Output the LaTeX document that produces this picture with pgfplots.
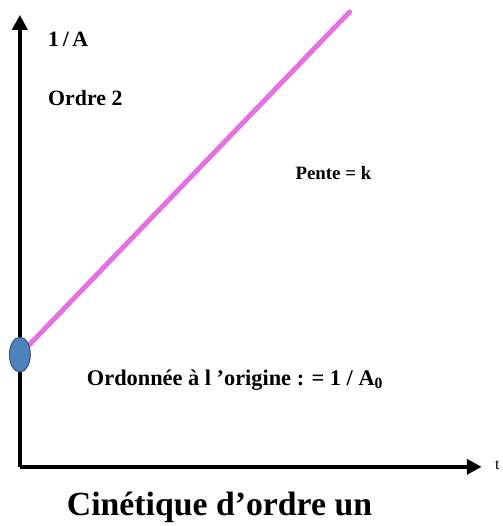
\documentclass[border=0pt]{standalone}
\usepackage{fontspec}
\setmainfont{Liberation Serif}
\usepackage{pgfplots}
\pgfplotsset{compat=1.18}
\usetikzlibrary{arrows.meta}

\definecolor{lineviolet}{RGB}{228,112,228}
\definecolor{dotblue}{RGB}{79,129,189}
\definecolor{dotedge}{RGB}{52,84,128}

\begin{document}
\begin{tikzpicture}
\begin{axis}[
  scale only axis,
  width=465pt, height=455pt,
  xmin=0, xmax=465, ymin=0, ymax=455,
  axis lines=left,
  axis line style={line width=4pt, -{Triangle[length=15pt,width=15pt]}},
  xtick=\empty, ytick=\empty,
  clip=false,
]
  % fixed page frame
  \path (axis cs:-20,-56) rectangle (axis cs:486,470);

  % 1/A against t: straight line
  \addplot[lineviolet, line width=5pt, line cap=round] coordinates {(0,113) (332,458)};
  % intercept 1/A0
  \addplot[only marks, mark=*, mark size=17.5pt,
    mark options={xscale=0.6, fill=dotblue, draw=dotedge, line width=1pt}]
    coordinates {(0,113)};

  \node[anchor=base west, font=\bfseries\fontsize{22}{26}\selectfont] at (axis cs:25,423) {1\,/\,A};
  \node[anchor=base west, font=\bfseries\fontsize{22}{26}\selectfont] at (axis cs:25,364) {Ordre 2};
  \node[anchor=base west, font=\bfseries\fontsize{19}{23}\selectfont] at (axis cs:274,289) {Pente = k};
  \node[anchor=base west, font=\bfseries\fontsize{22.5}{26}\selectfont] at (axis cs:64,82)
    {Ordonnée à l 'origine : = 1 / A$_{\mathbf 0}$};
  \node[anchor=base west, font=\fontsize{16}{19}\selectfont] at (axis cs:475,-3) {t};
  \node[anchor=base, font=\bfseries\fontsize{34}{40}\selectfont] at (axis cs:201,-49)
    {Cinétique d’ordre un};
\end{axis}
\end{tikzpicture}
\end{document}
